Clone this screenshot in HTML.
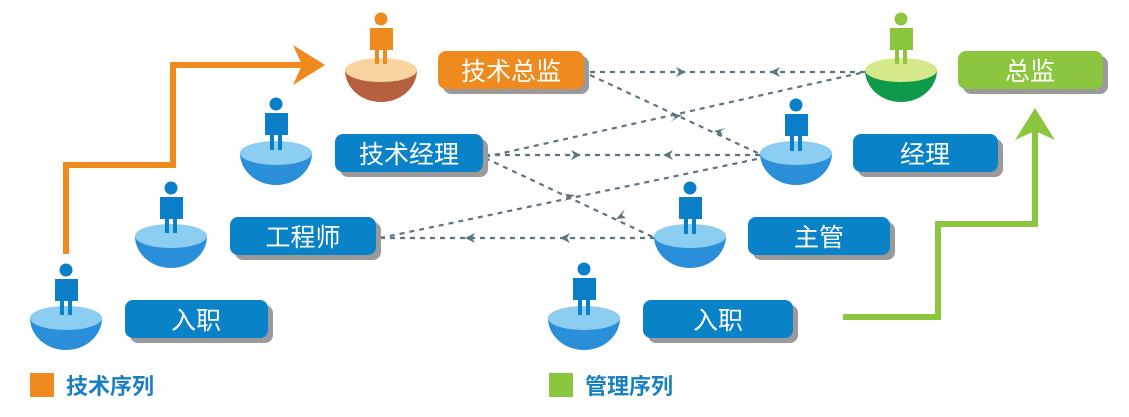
<!DOCTYPE html>
<html><head><meta charset="utf-8"><style>
body{margin:0;background:#fff;width:1129px;height:412px;overflow:hidden}
text{font-family:"Liberation Sans","Noto Sans CJK SC",sans-serif}
</style></head><body>
<svg width="1129" height="412" viewBox="0 0 1129 412" xmlns="http://www.w3.org/2000/svg">
<g stroke="#5f7482" stroke-width="2.2" stroke-dasharray="5,5" fill="none">
<line x1="590" y1="72" x2="865" y2="72"/>
<line x1="590" y1="75" x2="762" y2="155"/>
<line x1="485" y1="157" x2="865" y2="72"/>
<line x1="485" y1="155" x2="760" y2="155"/>
<line x1="485" y1="158" x2="655" y2="238"/>
<line x1="380" y1="238" x2="762" y2="158"/>
<line x1="380" y1="238" x2="655" y2="238"/>
</g>
<g fill="#5f7482">
<path d="M686,72 l-10,-5 l3,5 l-3,5z"/>
<path d="M770,72 l10,-5 l-3,5 l3,5z"/>
<path d="M581,155 l-10,-5 l3,5 l-3,5z"/>
<path d="M663,155 l10,-5 l-3,5 l3,5z"/>
<path d="M465,238 l10,-5 l-3,5 l3,5z"/>
<path d="M560,238 l10,-5 l-3,5 l3,5z"/>
<path d="M682,115 l-10,-1 l3,4 l-5,4z"/>
<path d="M714,131 l10,1 l-4,-4 l4,-5z" transform="rotate(25 714 131)"/>
<path d="M575,195 l-10,-1 l3,4 l-5,4z"/>
<path d="M616,219 l10,-1 l-4,-3 l3,-6z"/>
</g>
<path d="M66,254 V165 H173 V65 H305" stroke="#ee8a1e" stroke-width="6" fill="none"/>
<path d="M293,45 L325,65 L293,85 L302,65 Z" fill="#ee8a1e"/>
<path d="M843,317 H938 V224 H1035 V130" stroke="#8cc63f" stroke-width="6" fill="none"/>
<path d="M1015,140 L1035,108 L1055,140 L1035,131 Z" fill="#8cc63f"/>
<g>
<path d="M30,318 A36,32 0 0 0 102,318 Z" fill="#2a8fd8"/><ellipse cx="66" cy="318" rx="36" ry="12" fill="#8ccdf2"/>
<circle cx="66" cy="270" r="6.5" fill="#0a7fc8"/><rect x="55" y="279" width="23" height="22" fill="#0a7fc8"/><rect x="60" y="300" width="4" height="15" fill="#0a7fc8"/><rect x="68" y="300" width="4" height="15" fill="#0a7fc8"/>

<path d="M135,236 A36,32 0 0 0 207,236 Z" fill="#2a8fd8"/><ellipse cx="171" cy="236" rx="36" ry="12" fill="#8ccdf2"/>
<circle cx="171" cy="188" r="6.5" fill="#0a7fc8"/><rect x="160" y="197" width="23" height="22" fill="#0a7fc8"/><rect x="165" y="218" width="4" height="15" fill="#0a7fc8"/><rect x="173" y="218" width="4" height="15" fill="#0a7fc8"/>

<path d="M240,153 A36,32 0 0 0 312,153 Z" fill="#2a8fd8"/><ellipse cx="276" cy="153" rx="36" ry="12" fill="#8ccdf2"/>
<circle cx="276" cy="104" r="6.5" fill="#0a7fc8"/><rect x="265" y="113" width="23" height="22" fill="#0a7fc8"/><rect x="270" y="134" width="4" height="16" fill="#0a7fc8"/><rect x="278" y="134" width="4" height="16" fill="#0a7fc8"/>

<path d="M345,70 A36,32 0 0 0 417,70 Z" fill="#b5603e"/><ellipse cx="381" cy="70" rx="36" ry="12" fill="#f9d3a0"/>
<circle cx="381" cy="19" r="6.5" fill="#ee8a1e"/><rect x="370" y="28" width="23" height="22" fill="#ee8a1e"/><rect x="375" y="49" width="4" height="15" fill="#ee8a1e"/><rect x="383" y="49" width="4" height="15" fill="#ee8a1e"/>

<path d="M548,318 A36,32 0 0 0 620,318 Z" fill="#2a8fd8"/><ellipse cx="584" cy="318" rx="36" ry="12" fill="#8ccdf2"/>
<circle cx="584" cy="269" r="6.5" fill="#0a7fc8"/><rect x="573" y="278" width="23" height="22" fill="#0a7fc8"/><rect x="578" y="299" width="4" height="16" fill="#0a7fc8"/><rect x="586" y="299" width="4" height="16" fill="#0a7fc8"/>

<path d="M654,236 A36,32 0 0 0 726,236 Z" fill="#2a8fd8"/><ellipse cx="690" cy="236" rx="36" ry="12" fill="#8ccdf2"/>
<circle cx="690" cy="188" r="6.5" fill="#0a7fc8"/><rect x="679" y="197" width="23" height="22" fill="#0a7fc8"/><rect x="684" y="218" width="4" height="16" fill="#0a7fc8"/><rect x="692" y="218" width="4" height="16" fill="#0a7fc8"/>

<path d="M760,153 A36,32 0 0 0 832,153 Z" fill="#2a8fd8"/><ellipse cx="796" cy="153" rx="36" ry="12" fill="#8ccdf2"/>
<circle cx="796" cy="105" r="6.5" fill="#0a7fc8"/><rect x="785" y="114" width="23" height="22" fill="#0a7fc8"/><rect x="790" y="135" width="4" height="16" fill="#0a7fc8"/><rect x="798" y="135" width="4" height="16" fill="#0a7fc8"/>

<path d="M865,70 A36,32 0 0 0 937,70 Z" fill="#0e9a48"/><ellipse cx="901" cy="70" rx="36" ry="12" fill="#d6e98a"/>
<circle cx="901" cy="19" r="6.5" fill="#8cc63f"/><rect x="890" y="28" width="23" height="22" fill="#8cc63f"/><rect x="895" y="49" width="4" height="15" fill="#8cc63f"/><rect x="903" y="49" width="4" height="15" fill="#8cc63f"/>
</g>
<g>
<rect x="130" y="305" width="143" height="38" rx="8" fill="#9a9a9a"/><rect x="125" y="300" width="143" height="38" rx="8" fill="#0a82c8"/><text x="196" y="329" font-size="25" fill="#fff" text-anchor="middle">入职</text>
<rect x="235" y="222" width="146" height="38" rx="8" fill="#9a9a9a"/><rect x="230" y="217" width="146" height="38" rx="8" fill="#0a82c8"/><text x="303" y="246" font-size="25" fill="#fff" text-anchor="middle">工程师</text>
<rect x="340" y="139" width="148" height="38" rx="8" fill="#9a9a9a"/><rect x="335" y="134" width="148" height="38" rx="8" fill="#0a82c8"/><text x="409" y="163" font-size="25" fill="#fff" text-anchor="middle">技术经理</text>
<rect x="443" y="56" width="146" height="38" rx="8" fill="#9a9a9a"/><rect x="438" y="51" width="146" height="38" rx="8" fill="#ee8a1e"/><text x="511" y="80" font-size="25" fill="#fff" text-anchor="middle">技术总监</text>
<rect x="648" y="305" width="150" height="38" rx="8" fill="#9a9a9a"/><rect x="643" y="300" width="150" height="38" rx="8" fill="#0a82c8"/><text x="718" y="329" font-size="25" fill="#fff" text-anchor="middle">入职</text>
<rect x="753" y="222" width="142" height="38" rx="8" fill="#9a9a9a"/><rect x="748" y="217" width="142" height="38" rx="8" fill="#0a82c8"/><text x="819" y="246" font-size="25" fill="#fff" text-anchor="middle">主管</text>
<rect x="858" y="139" width="145" height="38" rx="8" fill="#9a9a9a"/><rect x="853" y="134" width="145" height="38" rx="8" fill="#0a82c8"/><text x="925" y="163" font-size="25" fill="#fff" text-anchor="middle">经理</text>
<rect x="963" y="56" width="145" height="38" rx="8" fill="#9a9a9a"/><rect x="958" y="51" width="145" height="38" rx="8" fill="#8cc63f"/><text x="1030" y="80" font-size="25" fill="#fff" text-anchor="middle">总监</text>
</g>
<rect x="30" y="373" width="24" height="24" fill="#ee8a1e"/>
<text x="66" y="394" font-size="22" font-weight="bold" fill="#1a7fc0">技术序列</text>
<rect x="549" y="373" width="24" height="24" fill="#8cc63f"/>
<text x="585" y="394" font-size="22" font-weight="bold" fill="#1a7fc0">管理序列</text>
</svg>
</body></html>
